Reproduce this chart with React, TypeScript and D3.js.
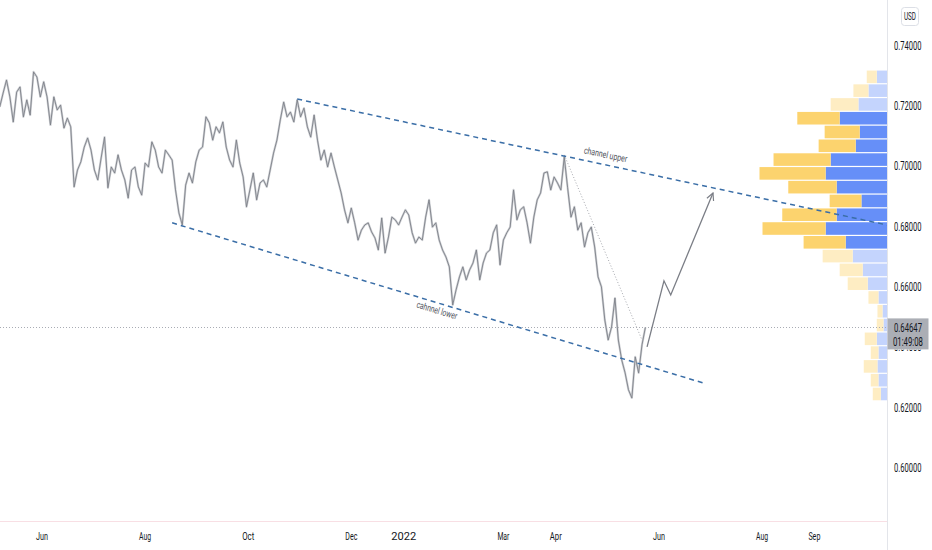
import * as d3 from "d3"
import React, { useEffect, useRef } from "react"

// closing prices, one every 2 days starting at barStart
const barStart = "2021-05-07"
const barStepDays = 2
const closes = [
    0.7195, 0.7241, 0.7284, 0.7228, 0.7145, 0.7244, 0.7261, 0.7162, 0.7218, 0.7168,
    0.7311, 0.7294, 0.7228, 0.7278, 0.7228, 0.7135, 0.7228, 0.7185, 0.7201, 0.7125,
    0.7158, 0.7129, 0.6930, 0.6986, 0.7013, 0.7062, 0.7092, 0.7052, 0.6986, 0.6953,
    0.7026, 0.7095, 0.6927, 0.6996, 0.6976, 0.7036, 0.6986, 0.6953, 0.6893, 0.6986,
    0.6996, 0.6930, 0.6903, 0.7009, 0.6996, 0.7079, 0.7052, 0.6996, 0.6976, 0.7052,
    0.7036, 0.7019, 0.6920, 0.6844, 0.6804, 0.6936, 0.6976, 0.6943, 0.7013, 0.7052,
    0.7062, 0.7162, 0.7142, 0.7085, 0.7129, 0.7109, 0.7145, 0.7062, 0.7019, 0.6996,
    0.7085, 0.7009, 0.6963, 0.6864, 0.6920, 0.6976, 0.6887, 0.6943, 0.6953, 0.6930,
    0.6986, 0.7042, 0.7085, 0.7152, 0.7211, 0.7162, 0.7178, 0.7145, 0.7218, 0.7162,
    0.7191, 0.7129, 0.7095, 0.7168, 0.7085, 0.7019, 0.7052, 0.6996, 0.7042, 0.6996,
    0.6953, 0.6910, 0.6854, 0.6811, 0.6860, 0.6811, 0.6754, 0.6787, 0.6804, 0.6811,
    0.6781, 0.6761, 0.6721, 0.6827, 0.6711, 0.6764, 0.6830, 0.6821, 0.6804, 0.6830,
    0.6854, 0.6837, 0.6778, 0.6744, 0.6764, 0.6754, 0.6830, 0.6887, 0.6797, 0.6811,
    0.6754, 0.6721, 0.6698, 0.6665, 0.6539, 0.6589, 0.6632, 0.6665, 0.6622, 0.6655,
    0.6678, 0.6721, 0.6622, 0.6678, 0.6711, 0.6721, 0.6778, 0.6804, 0.6672, 0.6754,
    0.6778, 0.6797, 0.6920, 0.6821, 0.6854, 0.6864, 0.6811, 0.6744, 0.6830, 0.6887,
    0.6910, 0.6976, 0.6980, 0.6920, 0.6963, 0.6943, 0.6920, 0.7029, 0.6927, 0.6830,
    0.6864, 0.6787, 0.6811, 0.6731, 0.6778, 0.6797, 0.6731, 0.6632, 0.6599, 0.6489,
    0.6423, 0.6466, 0.6562, 0.6423, 0.6357, 0.6314, 0.6258, 0.6231, 0.6367, 0.6314,
    0.6407, 0.64647
]
const lastPrice = 0.64647
const countdown = "01:49:08"

const priceTicks = [0.74, 0.72, 0.70, 0.68, 0.66, 0.64, 0.62, 0.60]
const timeTicks = ["2021-06-01", "2021-08-01", "2021-10-01", "2021-12-01", "2022-01-01",
    "2022-03-01", "2022-04-01", "2022-06-01", "2022-08-01", "2022-09-01"]
const timeLabels = ["Jun", "Aug", "Oct", "Dec", "2022", "Mar", "Apr", "Jun", "Aug", "Sep"]

// volume profile, rows from the lowest price bin upwards
const profileLow = 0.6221
const profileHigh = 0.7317
const downVolume = [80, 77, 137, 77, 120, 67, 50, 100, 200, 230, 300, 420, 630, 543, 317, 483, 660, 570, 370, 350, 423, 277, 150, 100]
const upVolume = [67, 90, 100, 90, 107, 40, 50, 90, 197, 247, 347, 417, 617, 507, 260, 507, 617, 567, 317, 277, 477, 290, 190, 107]
const valueAreaRows = [11, 20]

// drawings
const channelUpper = [["2021-10-30", 0.7221], ["2022-07-13", 0.6915]]
const channelLower = [["2021-08-17", 0.6811], ["2022-06-27", 0.6281]]
const trendDotted = [["2022-04-06", 0.7036], ["2022-05-22", 0.6423]]
const projection = [["2022-05-25", 0.6400], ["2022-06-04", 0.6619], ["2022-06-08", 0.6572], ["2022-07-03", 0.6910]]

// squeeze text horizontally to a given width (the screenshot's font is narrow)
function squeeze(sel, target) {
    sel.each(function (d, i) {
        const t = typeof target === "function" ? target(d, i) : target
        const len = this.getComputedTextLength()
        const k = len > 0 ? t / len : 1
        const x = +this.getAttribute("x")
        const y = +this.getAttribute("y")
        this.setAttribute("x", 0)
        this.setAttribute("y", 0)
        this.setAttribute("transform", `translate(${x},${y}) scale(${k},1)`)
    })
}

const Chart = () => {
    const svgRef = useRef()

    useEffect(() => {
        const width = 932
        const height = 550
        const axisX = 887.5
        const axisY = 521.5
        const font = "Roboto, 'Noto Sans', sans-serif"
        const parse = d3.utcParse("%Y-%m-%d")

        const svg = d3.select(svgRef.current)
            .attr("width", width)
            .attr("height", height)
            .style("background", "#ffffff")
        svg.selectAll("*").remove()

        const x = d3.scaleUtc()
            .domain([parse("2021-06-01"), parse("2022-08-01")])
            .range([42, 762])
        const y = d3.scaleLinear()
            .domain([0.60, 0.74])
            .range([467.7, 45])

        const pt = (d) => [x(parse(d[0])), y(d[1])]
        const ly = y(lastPrice)

        const defs = svg.append("defs")
        defs.append("clipPath").attr("id", "pane")
            .append("rect").attr("x", 0).attr("y", 0).attr("width", axisX).attr("height", axisY)
        // price labels hide behind the last price badge
        const scaleClip = defs.append("clipPath").attr("id", "scaleclip")
        scaleClip.append("rect").attr("x", axisX).attr("y", 0).attr("width", 50).attr("height", ly - 9)
        scaleClip.append("rect").attr("x", axisX).attr("y", ly + 22).attr("width", 50).attr("height", 200)
        const marker = defs.append("marker")
            .attr("id", "arrowhead")
            .attr("viewBox", "0 0 10 10")
            .attr("refX", 9).attr("refY", 5)
            .attr("markerWidth", 9).attr("markerHeight", 9)
            .attr("markerUnits", "userSpaceOnUse")
            .attr("orient", "auto")
        marker.append("path")
            .attr("d", "M1,1 L9,5 L1,9")
            .attr("fill", "none")
            .attr("stroke", "#7b7e86")
            .attr("stroke-width", 1.3)

        const pane = svg.append("g").attr("clip-path", "url(#pane)")

        // volume profile
        const rowH = (profileHigh - profileLow) / downVolume.length
        const rows = downVolume.map((dv, i) => ({
            i, down: dv, up: upVolume[i],
            lo: profileLow + i * rowH, hi: profileLow + (i + 1) * rowH
        }))
        const w = d3.scaleLinear()
            .domain([0, d3.max(rows, (r) => r.down + r.up)])
            .range([0, 128])
        const inVA = (r) => r.i >= valueAreaRows[0] && r.i <= valueAreaRows[1]

        pane.selectAll(".up").data(rows).join("rect")
            .attr("x", (r) => axisX - w(r.up))
            .attr("y", (r) => y(r.hi) + 0.5)
            .attr("width", (r) => w(r.up))
            .attr("height", (r) => y(r.lo) - y(r.hi) - 1.2)
            .attr("fill", (r) => inVA(r) ? "#668ff8" : "#c4d4fd")
        pane.selectAll(".down").data(rows).join("rect")
            .attr("x", (r) => axisX - w(r.up) - w(r.down))
            .attr("y", (r) => y(r.hi) + 0.5)
            .attr("width", (r) => w(r.down))
            .attr("height", (r) => y(r.lo) - y(r.hi) - 1.2)
            .attr("fill", (r) => inVA(r) ? "#fcd36e" : "#feedc3")

        // last price line
        pane.append("line")
            .attr("x1", 0).attr("x2", axisX)
            .attr("y1", Math.round(ly) + 0.5).attr("y2", Math.round(ly) + 0.5)
            .attr("stroke", "#a9acb4")
            .attr("stroke-width", 1)
            .attr("stroke-dasharray", "1,2")

        // price series
        const bars = closes.map((c, i) => ({
            date: d3.utcDay.offset(parse(barStart), i * barStepDays),
            close: c
        }))
        const line = d3.line()
            .x((d) => x(d.date))
            .y((d) => y(d.close))
        pane.append("path").datum(bars)
            .attr("d", line)
            .attr("fill", "none")
            .attr("stroke", "#cfd1d5")
            .attr("stroke-width", 2.2)
            .attr("stroke-linejoin", "round")
        pane.append("path").datum(bars)
            .attr("d", line)
            .attr("fill", "none")
            .attr("stroke", "#7d8088")
            .attr("stroke-width", 0.9)
            .attr("stroke-linejoin", "miter")

        // dotted trend line
        pane.append("line")
            .attr("x1", pt(trendDotted[0])[0]).attr("y1", pt(trendDotted[0])[1])
            .attr("x2", pt(trendDotted[1])[0]).attr("y2", pt(trendDotted[1])[1])
            .attr("stroke", "#a6a8ae")
            .attr("stroke-width", 1)
            .attr("stroke-dasharray", "1,2")

        // channel lines
        const [u0, u1] = channelUpper.map(pt)
        const slopeU = (u1[1] - u0[1]) / (u1[0] - u0[0])
        pane.append("line")
            .attr("x1", u0[0]).attr("y1", u0[1])
            .attr("x2", axisX).attr("y2", u0[1] + slopeU * (axisX - u0[0]))
            .attr("stroke", "#3a6ea7")
            .attr("stroke-width", 1.5)
            .attr("stroke-dasharray", "5,4")
        const [l0, l1] = channelLower.map(pt)
        pane.append("line")
            .attr("x1", l0[0]).attr("y1", l0[1])
            .attr("x2", l1[0]).attr("y2", l1[1])
            .attr("stroke", "#3a6ea7")
            .attr("stroke-width", 1.5)
            .attr("stroke-dasharray", "5,4")

        // projection arrow
        pane.append("path")
            .attr("d", d3.line()(projection.map(pt)))
            .attr("fill", "none")
            .attr("stroke", "#7b7e86")
            .attr("stroke-width", 1.3)
            .attr("marker-end", "url(#arrowhead)")

        // channel labels
        const angU = Math.atan(slopeU) * 180 / Math.PI
        const lxU = 605
        pane.append("text")
            .attr("transform", `translate(${lxU},${u0[1] + slopeU * (lxU - u0[0]) - 7}) rotate(${angU})`)
            .attr("text-anchor", "middle")
            .attr("font-family", font)
            .attr("font-size", 9.5)
            .attr("fill", "#50535b")
            .attr("textLength", 44)
            .attr("lengthAdjust", "spacingAndGlyphs")
            .text("channel upper")
        const slopeL = (l1[1] - l0[1]) / (l1[0] - l0[0])
        const angL = Math.atan(slopeL) * 180 / Math.PI
        const lxL = 436
        pane.append("text")
            .attr("transform", `translate(${lxL},${l0[1] + slopeL * (lxL - l0[0]) + 11}) rotate(${angL})`)
            .attr("text-anchor", "middle")
            .attr("font-family", font)
            .attr("font-size", 9.5)
            .attr("fill", "#50535b")
            .attr("textLength", 42)
            .attr("lengthAdjust", "spacingAndGlyphs")
            .text("cahnnel lower")

        // axes frame
        svg.append("line")
            .attr("x1", 0).attr("x2", axisX)
            .attr("y1", axisY).attr("y2", axisY)
            .attr("stroke", "#f8dfe4")
        svg.append("line")
            .attr("x1", axisX).attr("x2", axisX)
            .attr("y1", 0).attr("y2", height)
            .attr("stroke", "#e3e5ea")

        // price axis labels
        svg.append("g").attr("clip-path", "url(#scaleclip)")
            .selectAll(".ptick").data(priceTicks).join("text")
            .attr("x", 894)
            .attr("y", (p) => y(p) + 4.5)
            .attr("font-family", font)
            .attr("font-size", 12)
            .attr("fill", "#131722")
            .text((p) => p.toFixed(5))
            .call(squeeze, 27.5)

        // time axis labels
        svg.selectAll(".ttick").data(timeTicks).join("text")
            .attr("x", (d) => x(parse(d)))
            .attr("y", 539.5)
            .attr("text-anchor", "middle")
            .attr("font-family", font)
            .attr("font-size", 11)
            .attr("fill", "#131722")
            .text((d, i) => timeLabels[i])
            .call(squeeze, (d, i) => timeLabels[i].length > 3 ? 25 : 12)

        // last price label
        svg.append("rect")
            .attr("x", axisX).attr("y", ly - 9)
            .attr("width", 41).attr("height", 31)
            .attr("fill", "#abaeb5")
        svg.append("text")
            .attr("x", 894).attr("y", ly + 4.5)
            .attr("font-family", font).attr("font-size", 12)
            .attr("fill", "#131722")
            .text(lastPrice.toFixed(5))
            .call(squeeze, 28)
        svg.append("text")
            .attr("x", 893).attr("y", ly + 19)
            .attr("font-family", font).attr("font-size", 12)
            .attr("fill", "#131722")
            .text(countdown)
            .call(squeeze, 30)

        // currency badge
        svg.append("rect")
            .attr("x", 901.5).attr("y", 7.5)
            .attr("width", 17).attr("height", 18)
            .attr("rx", 3)
            .attr("fill", "#ffffff")
            .attr("stroke", "#dcdfe6")
        svg.append("text")
            .attr("x", 910).attr("y", 20)
            .attr("text-anchor", "middle")
            .attr("font-family", font).attr("font-size", 10)
            .attr("fill", "#131722")
            .text("USD")
            .call(squeeze, 12)
    }, [])

    return <svg ref={svgRef} style={{ position: "absolute", left: 0, top: 0 }}></svg>
}

export default function App() {
    return <Chart />
}
